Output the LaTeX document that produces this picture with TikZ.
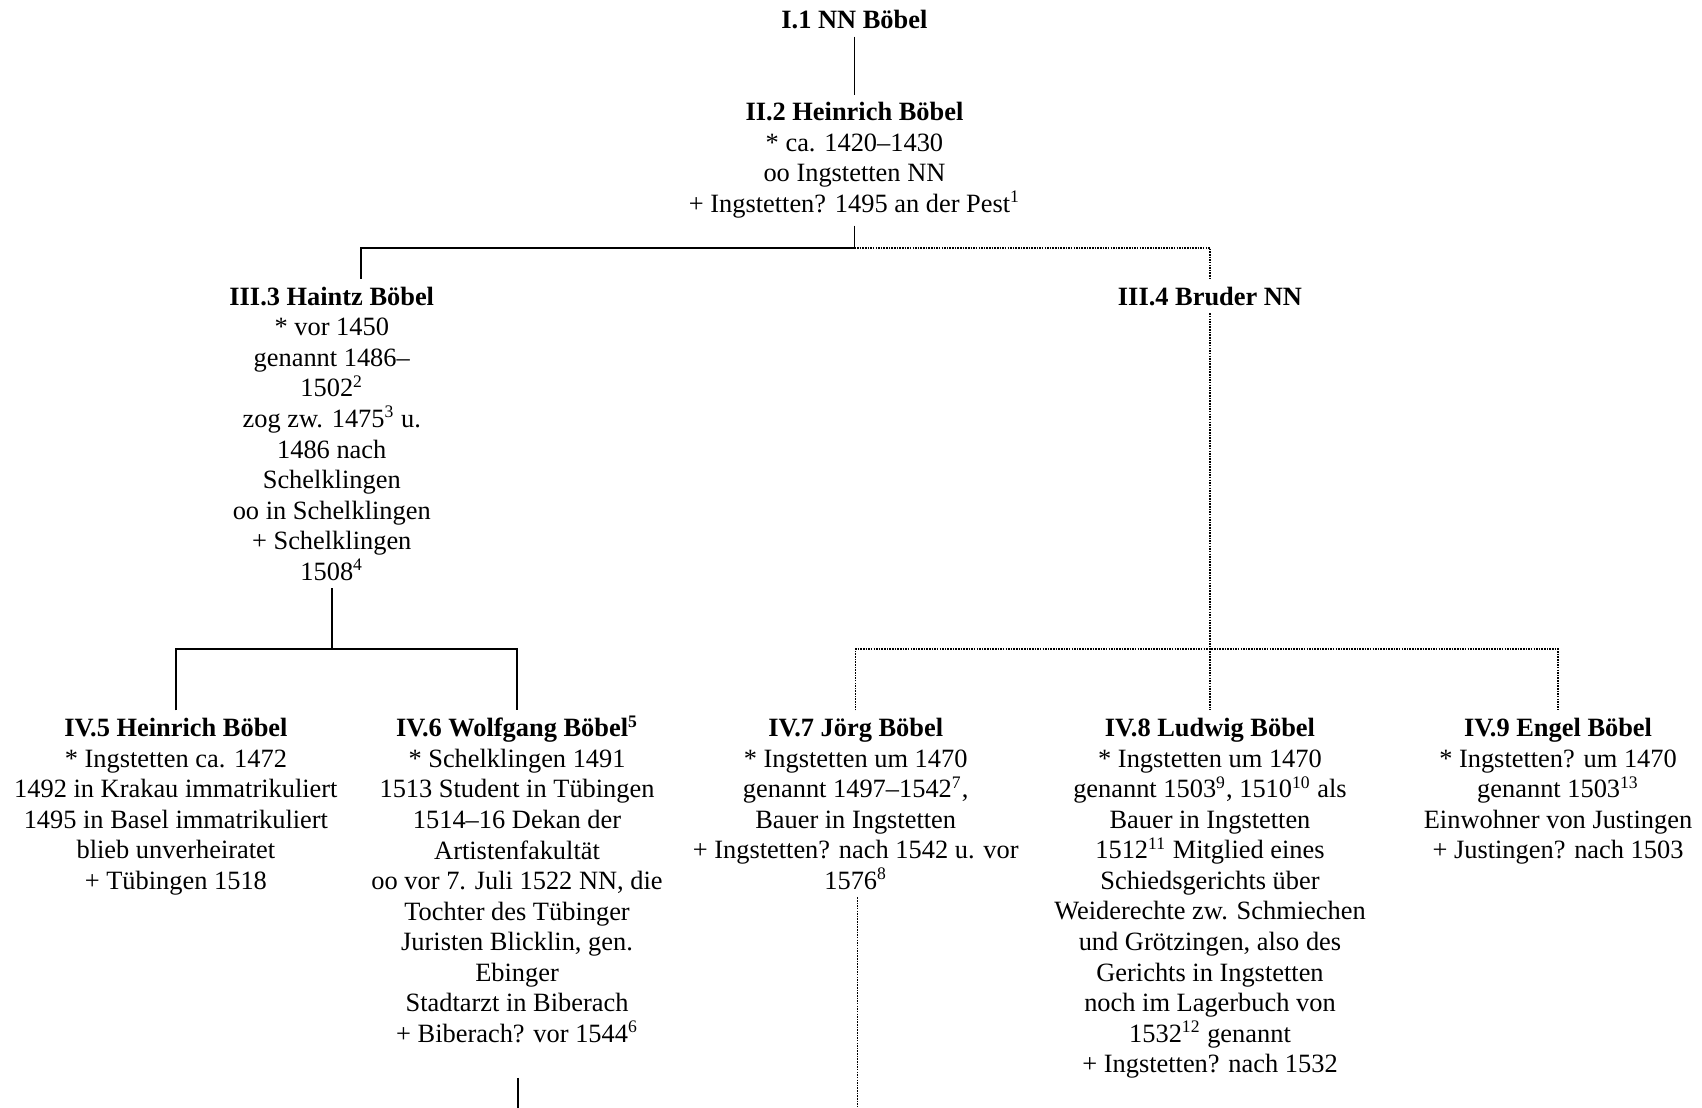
\documentclass[tikz,border=0pt]{standalone}
\usepackage{fontspec}
\setmainfont{Liberation Serif}
\usepackage{tikz}
\newcommand{\fn}[1]{\textsuperscript{\smash{#1}}}

\begin{document}
\begin{tikzpicture}[
        person/.style={align=center, anchor=north, inner sep=0pt, outer ysep=3.5pt,
            font=\fontsize{12}{13.9}\selectfont},
        line/.style={line width=0.75pt},
        dotline/.style={line width=0.6pt, dash pattern=on 0.7pt off 0.5pt}
    ]
    \useasboundingbox (0,0) rectangle (27.19,-17.70);
    % generation I and II
    \node[person] (p1) at (13.65,-0.04) {\textbf{I.1 NN Böbel}};
    \node[person] (p2) at (13.65,-1.51) {\textbf{II.2 Heinrich Böbel}\\ {*} ca. 1420–1430\\oo Ingstetten NN\\+ Ingstetten? 1495 an der Pest\fn{1}};
    % generation III
    \node[person] (p3) at (5.30,-4.46) {\textbf{III.3 Haintz Böbel}\\ {*} vor 1450\\genannt 1486–\\1502\fn{2}\\zog zw. 1475\fn{3} u.\\1486 nach\\Schelklingen\\oo in Schelklingen\\+ Schelklingen\\1508\fn{4}};
    \node[person] (p4) at (19.33,-4.46) {\textbf{III.4 Bruder NN}};
    % generation IV
    \node[person] (p5) at (2.81,-11.35) {\textbf{IV.5 Heinrich Böbel}\\ {*} Ingstetten ca. 1472\\1492 in Krakau immatrikuliert\\1495 in Basel immatrikuliert\\blieb unverheiratet\\+ Tübingen 1518};
    \node[person] (p6) at (8.26,-11.35) {\textbf{IV.6 Wolfgang Böbel\fn{5}}\\ {*} Schelklingen 1491\\1513 Student in Tübingen\\1514–16 Dekan der\\Artistenfakultät\\oo vor 7. Juli 1522 NN, die\\Tochter des Tübinger\\Juristen Blicklin, gen.\\Ebinger\\Stadtarzt in Biberach\\+ Biberach? vor 1544\fn{6}};
    \node[person] (p7) at (13.67,-11.35) {\textbf{IV.7 Jörg Böbel}\\ {*} Ingstetten um 1470\\genannt 1497–1542\fn{7},\\Bauer in Ingstetten\\+ Ingstetten? nach 1542 u. vor\\1576\fn{8}};
    \node[person] (p8) at (19.33,-11.35) {\textbf{IV.8 Ludwig Böbel}\\ {*} Ingstetten um 1470\\genannt 1503\fn{9}, 1510\fn{10} als\\Bauer in Ingstetten\\1512\fn{11} Mitglied eines\\Schiedsgerichts über\\Weiderechte zw. Schmiechen\\und Grötzingen, also des\\Gerichts in Ingstetten\\noch im Lagerbuch von\\1532\fn{12} genannt\\+ Ingstetten? nach 1532};
    \node[person] (p9) at (24.89,-11.35) {\textbf{IV.9 Engel Böbel}\\ {*} Ingstetten? um 1470\\genannt 1503\fn{13}\\Einwohner von Justingen\\+ Justingen? nach 1503};

    % junctions and open ends
    \coordinate (j2) at (13.65,-3.96);
    \coordinate (j3) at (5.30,-10.37);
    \coordinate (j4) at (19.33,-10.37);
    \coordinate (e6a) at (8.27,-17.22);
    \coordinate (e6b) at (8.27,-17.70);
    \coordinate (e7) at (13.70,-17.70);

    \draw[line] (p1) -- (p2);
    \draw[line] (p2) -- (j2) -| ([xshift=0.47cm]p3.north);
    \draw[dotline] (j2) -| (p4.north);
    \draw[dotline] (p4) -- (p8);
    \draw[line] (p3) -- (j3);
    \draw[line] (p5.north) |- (j3) -| (p6.north);
    \draw[dotline] (p7.north) |- (j4) -| (p9.north);
    \draw[line] (e6a) -- (e6b);
    \draw[dotline] (p7.south -| e7) -- (e7);
\end{tikzpicture}
\end{document}
